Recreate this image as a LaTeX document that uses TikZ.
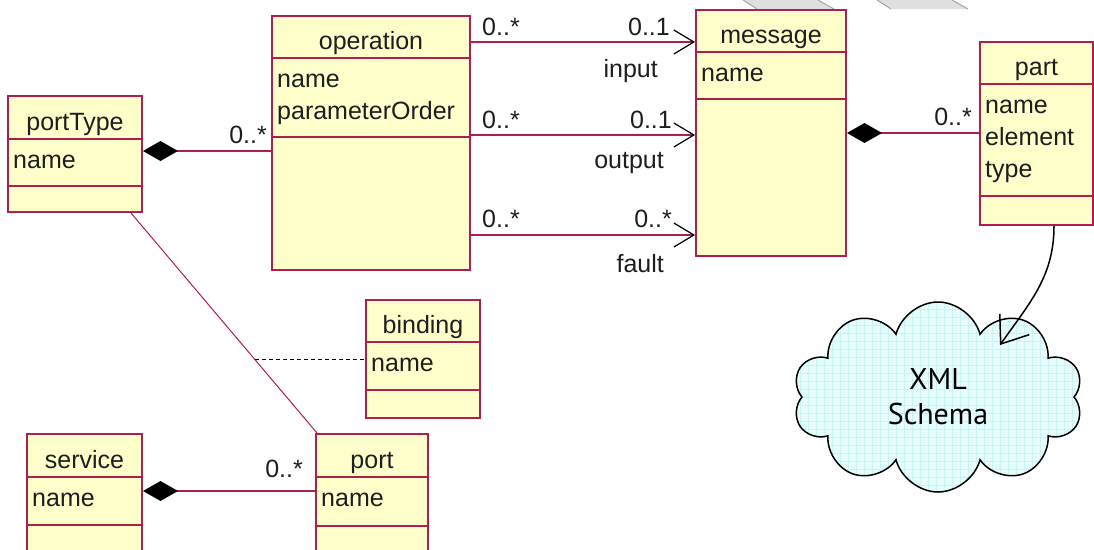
\documentclass[tikz,border=0pt]{standalone}
\usepackage{fontspec}
\setmainfont{Liberation Sans}
\newfontfamily\cloudfont{PT Sans}
\usetikzlibrary{arrows.meta,shapes.symbols,patterns.meta,fit}

\definecolor{umlfill}{RGB}{255,255,204}
\definecolor{umlred}{RGB}{176,30,78}
\definecolor{umltext}{RGB}{30,30,30}
\definecolor{cloudfill}{RGB}{230,253,253}
\definecolor{cloudgrid}{RGB}{200,243,243}

\tikzset{
  classframe/.style={draw=umlred, line width=2pt, fill=umlfill, inner sep=0pt},
  divider/.style={draw=umlred, line width=2pt},
  umlfont/.style={font=\fontsize{25}{32}\selectfont, text=umltext},
  mult/.style={umlfont, inner sep=0pt},
  assoc/.style={draw=umlred, line width=2pt},
  navig/.style={assoc, -{Straight Barb[black, length=20pt, width=24pt, line width=1.2pt]}},
  compos/.style={assoc, {Diamond[black, length=35pt, width=20pt]}-},
}

% #1 name, #2 left, #3 top, #4 width, #5 #6 dividers, #7 bottom, #8 title, #9 attributes
\newcommand{\classbox}[9]{%
  \node[classframe, fit={(#2,#3) ({#2+#4},#7)}] (#1) {};
  \draw[divider] (#2,#5) -- ({#2+#4},#5);
  \draw[divider] (#2,#6) -- ({#2+#4},#6);
  \node[umlfont, anchor=base, inner sep=0pt] at ({#2+#4/2},{#5-9}) {#8};
  \node[umlfont, anchor=north west, align=left, inner sep=0pt] at ({#2+5},{#5+6.5}) {\strut#9};
}

\begin{document}
\begin{tikzpicture}[x=1pt, y=-1pt]
  \clip (0,0) rectangle (1094,549);
  \fill[white] (0,0) rectangle (1094,549);

  % shapes cut off at the top
  \fill[gray!25] (743,0) -- (757,9) -- (834,9) -- (818,0) -- cycle;
  \fill[gray!25] (877,0) -- (891,9) -- (968,9) -- (952,0) -- cycle;
  \draw[gray!70, line width=1pt] (743,0) -- (757,9) (818,0) -- (834,9) (877,0) -- (891,9) (952,0) -- (968,9);

  \classbox{portType}{8}{96}{134}{139}{186}{212}{portType}{name}
  \classbox{operation}{272}{16}{198}{58}{137}{270}{operation}{name\\parameterOrder}
  \classbox{message}{696}{10}{150}{52}{99}{256}{message}{name}
  \classbox{part}{980}{42}{113}{84}{196}{225}{part}{name\\element\\type}
  \classbox{binding}{366}{300}{114}{342}{390}{418}{binding}{name}
  \classbox{service}{27}{434}{115}{477}{525}{560}{service}{name}
  \classbox{port}{316}{434}{112}{477}{526}{560}{port}{name}

  % compositions
  \coordinate (pt-c) at ([yshift=-56pt]portType.north east);
  \coordinate (msg-c) at ([yshift=-124pt]message.north east);
  \coordinate (svc-c) at ([yshift=-58pt]service.north east);
  \draw[compos] (pt-c) -- (pt-c -| operation.west);
  \draw[compos] (msg-c) -- (msg-c -| part.west);
  \draw[compos] (svc-c) -- (svc-c -| port.west);

  % operation to message
  \coordinate (in-s) at ([yshift=-27pt]operation.north east);
  \coordinate (out-s) at ([yshift=-120pt]operation.north east);
  \coordinate (flt-s) at ([yshift=-220pt]operation.north east);
  \draw[navig] (in-s) -- (in-s -| message.west);
  \draw[navig] (out-s) -- (out-s -| message.west);
  \draw[navig] (flt-s) -- (flt-s -| message.west);

  \node[mult, anchor=base west] at (482,35) {0..*};
  \node[mult, anchor=base east] at (670,35) {0..1};
  \node[mult, anchor=base east] at (658,77) {input};
  \node[mult, anchor=base west] at (482,128) {0..*};
  \node[mult, anchor=base east] at (672,128) {0..1};
  \node[mult, anchor=base east] at (664,168) {output};
  \node[mult, anchor=base west] at (482,227) {0..*};
  \node[mult, anchor=base east] at (672,227) {0..*};
  \node[mult, anchor=base east] at (664,272) {fault};
  \node[mult, anchor=base east] at (267,143) {0..*};
  \node[mult, anchor=base east] at (972,125) {0..*};
  \node[mult, anchor=base east] at (303,477) {0..*};

  % portType to port, with binding
  \draw[draw=umlred, line width=1pt] ([xshift=-12pt]portType.south east) -- coordinate[pos=0.667] (pt-mid) ([xshift=2pt]port.north west);
  \draw[line width=1pt, dash pattern=on 4pt off 3pt] (pt-mid) -- (pt-mid -| binding.west);

  % schema cloud
  \node[cloud, cloud puffs=10, cloud ignores aspect, minimum width=290pt, minimum height=190pt,
        draw=black, line width=1.5pt, preaction={fill=cloudfill},
        pattern={Hatch[angle=0, distance=8pt, line width=0.6pt]}, pattern color=cloudgrid,
        font=\cloudfont\fontsize{30}{35}\selectfont, align=center] (schema) at (938,397) {XML\\Schema};
  \coordinate (schema-in) at ([shift={(62pt,52pt)}]schema.center);
  \draw[line width=1.5pt, -{Straight Barb[length=24pt, width=36pt, line width=1.5pt]}]
    ([xshift=-40pt]part.south east) to[out=-90, in=55] (schema-in);
\end{tikzpicture}
\end{document}
